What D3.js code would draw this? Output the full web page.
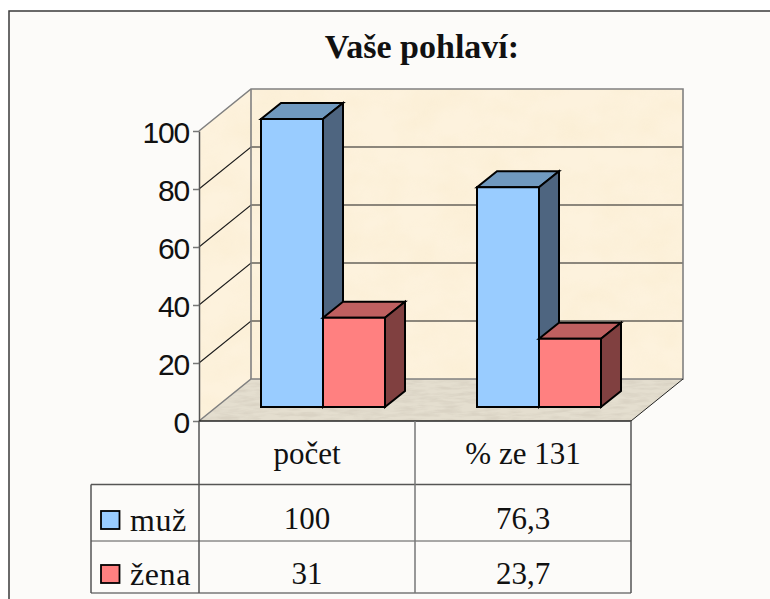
<!DOCTYPE html>
<html lang="cs">
<head>
    <meta charset="UTF-8">
    <title>Vaše pohlaví</title>
    <script src="https://d3js.org/d3.v7.min.js"></script>
    <style>
        html, body { margin: 0; padding: 0; background: #fff; overflow: hidden; }
        svg { display: block; }
        .serif { font-family: "Liberation Serif", serif; fill: #111; }
        .tick text { font-family: "Liberation Sans", Arial, sans-serif; font-size: 30px; letter-spacing: -1.2px; fill: #111; }
    </style>
</head>
<body>
    <div id="chart"></div>

    <script>
        const title = "Vaše pohlaví:";
        const categories = ["počet", "% ze 131"];
        const seriesNames = ["muž", "žena"];
        const muz = [100, 76.3];
        const zena = [31, 23.7];
        const yTicks = [0, 20, 40, 60, 80, 100];

        const svg = d3.select("#chart").append("svg")
            .attr("width", 770)
            .attr("height", 599);

        // wall textures
        const defs = svg.append("defs");
        function noiseFilter(id, freq, matrix) {
            const f = defs.append("filter").attr("id", id)
                .attr("x", 0).attr("y", 0).attr("width", 1).attr("height", 1);
            f.append("feTurbulence").attr("type", "fractalNoise")
                .attr("baseFrequency", freq).attr("numOctaves", 3).attr("seed", 4);
            f.append("feColorMatrix").attr("type", "matrix").attr("values", matrix);
            f.append("feComposite").attr("in2", "SourceGraphic").attr("operator", "in");
        }
        noiseFilter("wallTex", "0.025 0.035", "0 0 0 0 0.93  0 0 0 0 0.80  0 0 0 0 0.55  1.6 0 0 0 -0.5");
        noiseFilter("floorTex", "0.05 0.3", "0 0 0 0 0.62  0 0 0 0 0.57  0 0 0 0 0.48  2.6 0 0 0 -0.95");

        // frame
        svg.append("rect").attr("x", 9).attr("y", 11).attr("width", 770).attr("height", 600)
            .attr("fill", "#fcfbf9").attr("stroke", "#3a3a3a").attr("stroke-width", 1.5);

        svg.append("text").attr("class", "serif")
            .attr("x", 422).attr("y", 58)
            .attr("text-anchor", "middle")
            .attr("font-size", 34).attr("font-weight", "bold")
            .text(title);

        // scales
        const plotLeft = 199, plotRight = 631;
        const depthX = 52, depthY = 42;
        const x = d3.scaleBand().domain(categories).range([plotLeft, plotRight]);
        const y = d3.scaleLinear().domain([0, 100]).range([421, 131]);
        const yBar = d3.scaleLinear().domain([0, 100]).range([407, 119]);
        const inner = d3.scaleBand().domain(seriesNames).range([-62, 62]);
        const line = d3.line();

        // walls and floor
        const topY = y(100), botY = y(0);
        const sideWall = [[plotLeft, topY], [plotLeft + depthX, topY - depthY], [plotLeft + depthX, botY - depthY], [plotLeft, botY]];
        const backWall = [[plotLeft + depthX, topY - depthY], [plotRight + depthX, topY - depthY], [plotRight + depthX, botY - depthY], [plotLeft + depthX, botY - depthY]];
        const floor = [[plotLeft, botY], [plotLeft + depthX, botY - depthY], [plotRight + depthX, botY - depthY], [plotRight, botY]];

        [sideWall, backWall].forEach(p => {
            svg.append("path").attr("d", line(p) + "Z").attr("fill", "#fdf2dd");
            svg.append("path").attr("d", line(p) + "Z").attr("fill", "#000").attr("filter", "url(#wallTex)").attr("opacity", 0.3);
        });
        svg.append("path").attr("d", line(floor) + "Z").attr("fill", "#e4decf");
        svg.append("path").attr("d", line(floor) + "Z").attr("fill", "#000").attr("filter", "url(#floorTex)").attr("opacity", 0.45);

        // gridlines
        svg.append("g").selectAll("path")
            .data(yTicks.filter(d => d > 0 && d < 100))
            .enter().append("path")
            .attr("d", d => line([[plotLeft, y(d)], [plotLeft + depthX, y(d) - depthY], [plotRight + depthX, y(d) - depthY]]))
            .attr("fill", "none").attr("stroke", "#1c1c1c").attr("stroke-width", 1.1);

        // wall outlines
        svg.append("path")
            .attr("d", line([[plotLeft, topY], [plotLeft + depthX, topY - depthY], [plotRight + depthX, topY - depthY], [plotRight + depthX, botY - depthY], [plotLeft + depthX, botY - depthY], [plotLeft, botY]]))
            .attr("fill", "none").attr("stroke", "#808080").attr("stroke-width", 1.6);
        svg.append("path")
            .attr("d", line([[plotLeft + depthX, topY - depthY], [plotLeft + depthX, botY - depthY]]))
            .attr("stroke", "#808080").attr("stroke-width", 1.6);
        svg.append("path")
            .attr("d", line([[plotRight + depthX, botY - depthY], [plotRight, botY]]))
            .attr("stroke", "#222").attr("stroke-width", 1);

        // bars
        const barDx = 20, barDy = 16, barShift = 16;
        const colors = {
            "muž": { front: "#99ccff", top: "#7099bf", side: "#4e6580" },
            "žena": { front: "#ff8080", top: "#bf6060", side: "#804040" }
        };
        const barG = svg.append("g")
            .attr("stroke", "#000").attr("stroke-width", 2).attr("stroke-linejoin", "miter");

        function drawBar(cat, name, value) {
            const cx = x(cat) + x.bandwidth() / 2 + barShift;
            const x0 = cx + inner(name), x1 = x0 + inner.bandwidth();
            const y0 = yBar(0), y1 = yBar(value);
            const c = colors[name];
            barG.append("path").attr("fill", c.top)
                .attr("d", line([[x0, y1], [x0 + barDx, y1 - barDy], [x1 + barDx, y1 - barDy], [x1, y1]]) + "Z");
            barG.append("path").attr("fill", c.side)
                .attr("d", line([[x1, y1], [x1 + barDx, y1 - barDy], [x1 + barDx, y0 - barDy], [x1, y0]]) + "Z");
            barG.append("path").attr("fill", c.front)
                .attr("d", line([[x0, y1], [x1, y1], [x1, y0], [x0, y0]]) + "Z");
        }
        categories.forEach((cat, i) => {
            drawBar(cat, seriesNames[0], muz[i]);
            drawBar(cat, seriesNames[1], zena[i]);
        });

        // y axis
        const yAxis = svg.append("g")
            .attr("transform", "translate(" + plotLeft + ",0)")
            .call(d3.axisLeft(y).tickValues(yTicks).tickSize(6).tickPadding(4).tickSizeOuter(0));
        yAxis.select(".domain").attr("stroke", "#555").attr("stroke-width", 1.5);
        yAxis.selectAll(".tick line").attr("stroke", "#777").attr("stroke-width", 1.5);
        yAxis.selectAll(".tick text").attr("y", 2);

        // data table
        const tableLeft = 91, rows = [484.5, 541, 593];
        const grid = svg.append("g").attr("fill", "none");
        grid.append("path").attr("d", line([[plotLeft, botY], [plotRight, botY]]))
            .attr("stroke", "#222").attr("stroke-width", 1.6);
        rows.forEach((r, i) => {
            grid.append("path").attr("d", line([[tableLeft, r], [plotRight, r]]))
                .attr("stroke", i === 2 ? "#777" : "#555").attr("stroke-width", i === 1 ? 1 : 1.5);
        });
        [tableLeft, plotLeft, x(categories[1]), plotRight].forEach((vx, i) => {
            grid.append("path").attr("d", line([[vx, i === 0 ? rows[0] : botY], [vx, rows[2]]]))
                .attr("stroke", i === 2 ? "#777" : "#555").attr("stroke-width", 1.5);
        });

        const cellFont = 31;
        const cellCenter = cat => x(cat) + x.bandwidth() / 2;
        const comma = v => String(v).replace(".", ",");
        categories.forEach((cat, i) => {
            svg.append("text").attr("class", "serif").attr("x", cellCenter(cat)).attr("y", 464)
                .attr("text-anchor", "middle").attr("font-size", cellFont).text(cat);
            svg.append("text").attr("class", "serif").attr("x", cellCenter(cat)).attr("y", 529)
                .attr("text-anchor", "middle").attr("font-size", cellFont).text(comma(muz[i]));
            svg.append("text").attr("class", "serif").attr("x", cellCenter(cat)).attr("y", 584)
                .attr("text-anchor", "middle").attr("font-size", cellFont).text(comma(zena[i]));
        });

        // legend keys
        const legendRows = [{ y: 511, base: 531 }, { y: 565, base: 585 }];
        seriesNames.forEach((name, i) => {
            svg.append("rect").attr("x", 101).attr("y", legendRows[i].y)
                .attr("width", 18.5).attr("height", 18)
                .attr("fill", colors[name].front).attr("stroke", "#000").attr("stroke-width", 1.8);
            svg.append("text").attr("class", "serif").attr("x", 130).attr("y", legendRows[i].base)
                .attr("font-size", 32).attr("letter-spacing", 0.6).text(name);
        });
    </script>
</body>
</html>
